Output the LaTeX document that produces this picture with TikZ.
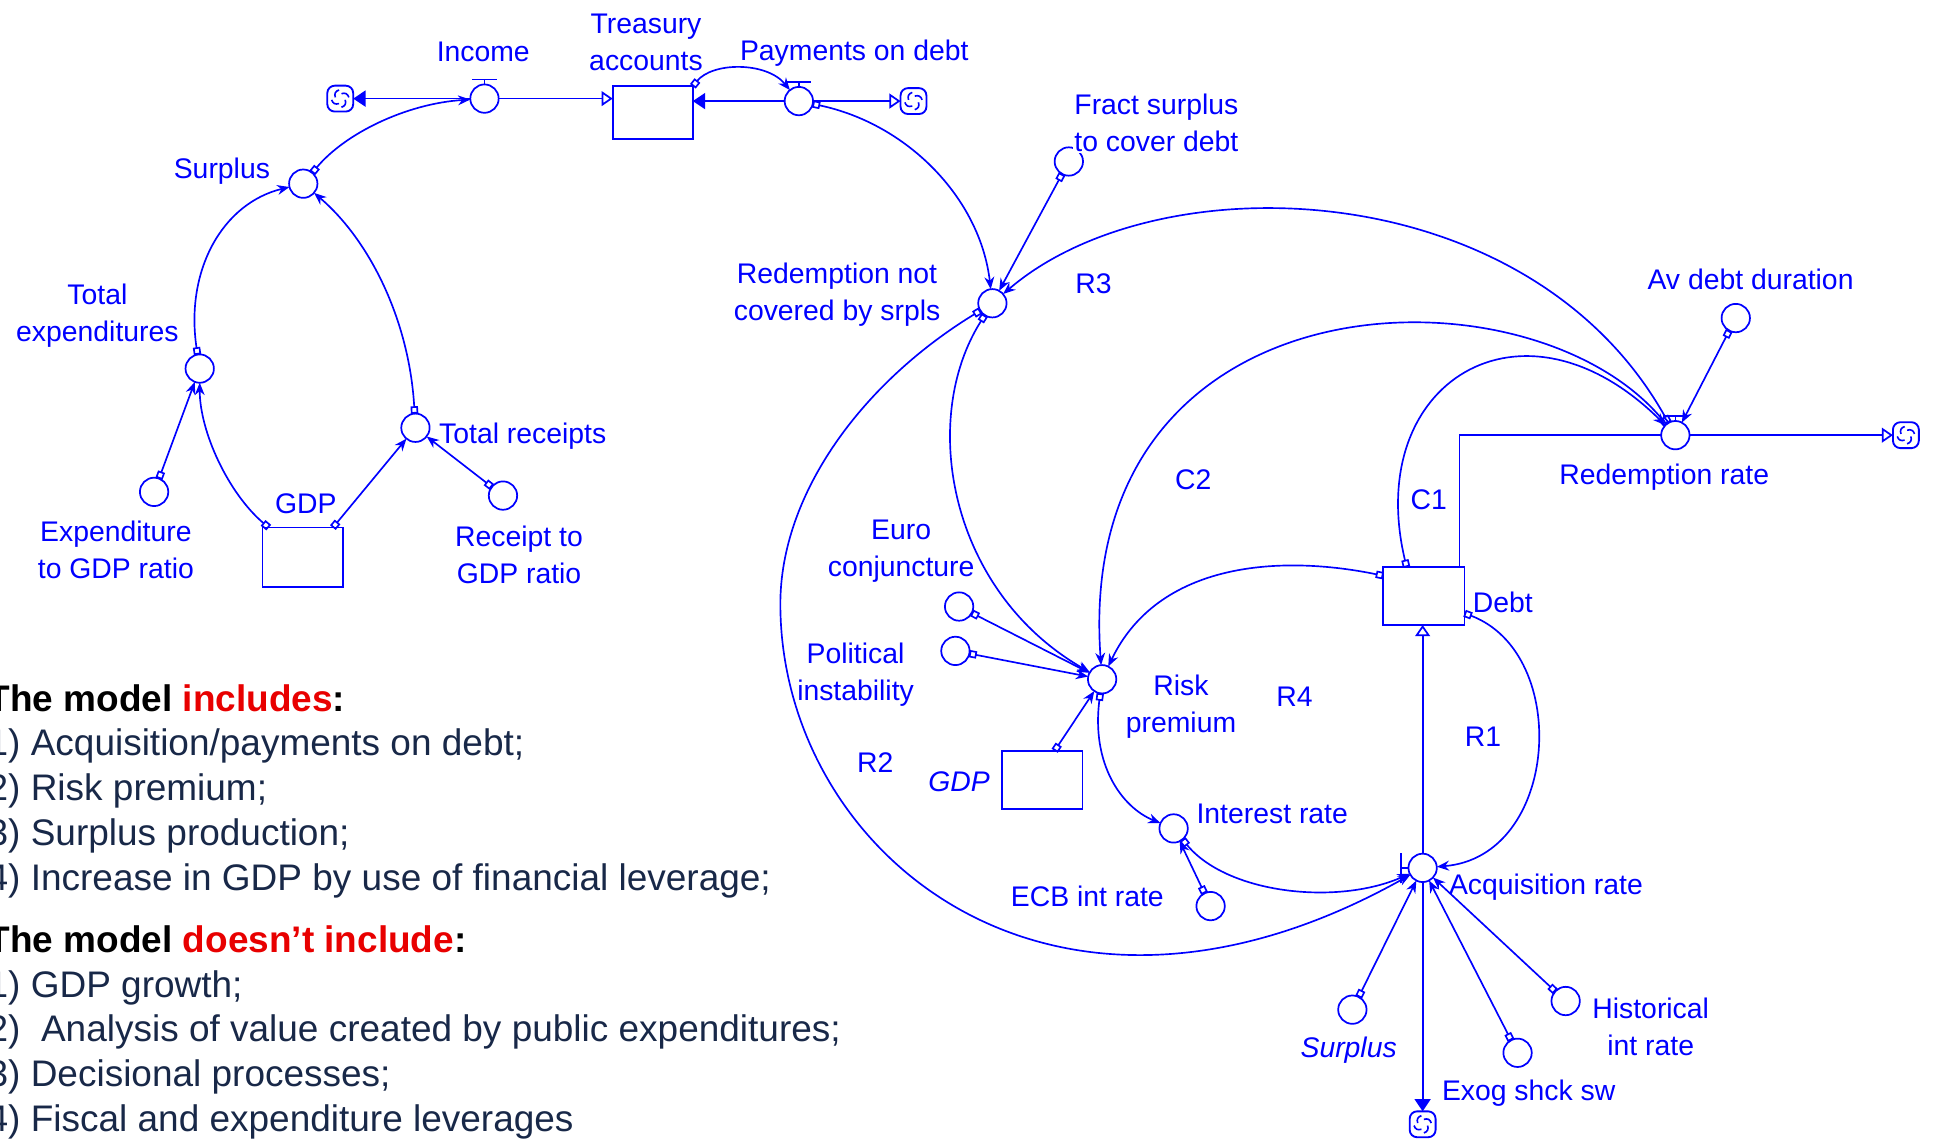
\documentclass[tikz,border=0pt]{standalone}
\usepackage{fontspec}
\setmainfont{Liberation Sans}
\usetikzlibrary{arrows.meta}
\pgfdeclarelayer{bg}
\pgfsetlayers{bg,main}
\definecolor{vblue}{RGB}{0,0,255}
\definecolor{vnavy}{RGB}{24,40,72}
\definecolor{vred}{RGB}{232,0,0}
% one curved stroke of the source/sink cloud, drawn four times around its centre
\newcommand{\cloudhooks}{%
  \path (path picture bounding box.center) coordinate (cc);
  \draw[vblue, line width=1.3pt] ([shift={(-1pt,7pt)}]cc) .. controls +(-3pt,-1pt) and +(-1pt,3pt) .. ([shift={(-4pt,1pt)}]cc);
  \draw[vblue, line width=1.3pt] ([shift={(-7pt,-1pt)}]cc) .. controls +(1pt,-3pt) and +(-3pt,-1pt) .. ([shift={(-1pt,-4pt)}]cc);
  \draw[vblue, line width=1.3pt] ([shift={(1pt,-7pt)}]cc) .. controls +(3pt,1pt) and +(1pt,-3pt) .. ([shift={(4pt,-1pt)}]cc);
  \draw[vblue, line width=1.3pt] ([shift={(7pt,1pt)}]cc) .. controls +(-1pt,3pt) and +(3pt,1pt) .. ([shift={(1pt,4pt)}]cc);
}

\begin{document}
\begin{tikzpicture}[x=1pt,y=-1pt,
  every node/.style={inner sep=0pt, outer sep=0pt},
  lbl/.style={text=vblue, font=\fontsize{23}{30}\selectfont, align=center},
  aux/.style={circle, draw=vblue, line width=1.4pt, fill=white, minimum size=23pt},
  cloudsym/.style={rectangle, rounded corners=6pt, draw=vblue, line width=1.5pt, fill=white,
    minimum size=21pt, path picture={\cloudhooks}},
  stock/.style={rectangle, draw=vblue, line width=1.4pt, fill=white, minimum width=65pt},
  handle/.style={draw=vblue, line width=1.4pt},
  conn/.style={draw=vblue, line width=1.35pt,
    {Square[open,length=6pt,width=6pt]}-{Stealth[length=10pt,width=8pt]}},
  flowline/.style={draw=vblue, line width=1.4pt},
  listhead/.style={text=black, font=\fontsize{30}{36}\selectfont\bfseries},
  listitem/.style={text=vnavy, font=\fontsize{30}{36}\selectfont}
]
\useasboundingbox (0,0) rectangle (1568,925);

% ---------- stocks ----------
\node[stock, minimum height=43pt] (treasury) at (529.5,91.5) {};
\node[stock, minimum height=48pt] (gdp) at (245.5,452) {};
\node[stock, minimum width=66pt, minimum height=47pt] (debt) at (1155,483.5) {};
\node[stock, minimum height=47pt] (gdpb) at (845.5,632.5) {};

% ---------- valves ----------
\node[aux] (income) at (393,80) {};
\node[aux] (payments) at (648,82) {};
\node[aux] (redrate) at (1359,353) {};
\node[aux] (acqrate) at (1154,704) {};
\draw[handle] (income.north) -- ++(0,-4) ++(-10,0) -- ++(20,0);
\draw[handle] (payments.north) -- ++(0,-4) ++(-10,0) -- ++(20,0);
\draw[handle] (redrate.north) -- ++(0,-4) ++(-10,0) -- ++(20,0);
\draw[handle] (acqrate.west) -- ++(-6,0) ++(0,-12) -- ++(0,24);

% ---------- clouds ----------
\node[cloudsym] (cloudA) at (276,80) {};
\node[cloudsym] (cloudB) at (741,82) {};
\node[cloudsym] (cloudC) at (1546,353) {};
\node[cloudsym] (cloudD) at (1154,912) {};

% ---------- auxiliaries ----------
\node[aux] (surplus) at (246,149) {};
\node[aux] (totexp) at (162,299) {};
\node[aux] (totrec) at (337,347) {};
\node[aux] (expratio) at (125,399) {};
\node[aux] (recratio) at (408,402) {};
\node[aux] (fract) at (867,131) {};
\node[aux] (rnc) at (805,246) {};
\node[aux] (avdebt) at (1408,258) {};
\node[aux] (euro) at (778,492) {};
\node[aux] (polit) at (775,528) {};
\node[aux] (risk) at (894,551) {};
\node[aux] (intrate) at (952,672) {};
\node[aux] (ecb) at (982,735) {};
\node[aux] (surplusb) at (1097,819) {};
\node[aux] (exog) at (1231,854) {};
\node[aux] (hist) at (1270,812) {};

% ---------- flows ----------
\begin{pgfonlayer}{bg}
\draw[flowline, {Triangle[length=10pt,width=13pt]}-{Triangle[open,length=9pt,width=12pt]}]
  (cloudA) -- (cloudA -| treasury.west);
\draw[flowline, {Triangle[length=10pt,width=13pt]}-{Triangle[open,length=9pt,width=12pt]}]
  (payments -| treasury.east) -- (cloudB);
\draw[flowline, -{Triangle[open,length=9pt,width=12pt]}]
  ([xshift=-4pt]debt.north east) |- (cloudC);
\draw[flowline, -{Triangle[open,length=9pt,width=12pt]}]
  (acqrate) -- (acqrate |- debt.south);
\draw[flowline, -{Triangle[length=10pt,width=13pt]}]
  (acqrate) -- (cloudD);
\end{pgfonlayer}

% ---------- connectors ----------
\draw[conn] (treasury.north east) .. controls (578,50) and (622,50) .. (payments);
\draw[conn] (surplus) .. controls (280,108) and (330,84) .. (income);
\draw[conn] (totexp) .. controls (150,220) and (180,165) .. (surplus);
\draw[conn] (totrec) .. controls (332,260) and (300,195) .. (surplus);
\draw[conn] ([xshift=5pt]gdp.north west) .. controls (185,400) and (162,350) .. (totexp);
\draw[conn] ([xshift=-8pt]gdp.north east) -- (totrec);
\draw[conn] (expratio) -- (totexp);
\draw[conn] (recratio) -- (totrec);
\draw[conn] (payments) .. controls (735,100) and (795,160) .. (rnc);
\draw[conn] (fract) -- (rnc);
\draw[conn] (redrate) .. controls (1240,140) and (940,130) .. (rnc);
\draw[conn] (rnc) .. controls (700,310) and (633,400) .. (633,490)
  .. controls (633,690) and (850,875) .. (acqrate);
\draw[conn] (rnc) .. controls (745,340) and (770,480) .. (risk);
\draw[conn] (euro) -- (risk);
\draw[conn] (polit) -- (risk);
\draw[conn] ([xshift=10pt]gdpb.north) -- (risk);
\draw[conn] (redrate) .. controls (1240,210) and (870,220) .. (risk);
\draw[conn] ([xshift=-14pt]debt.north) .. controls (1105,310) and (1235,230) .. (redrate);
\draw[conn] ([yshift=-7pt]debt.north west) .. controls (1040,450) and (940,455) .. (risk);
\draw[conn] (risk) .. controls (885,620) and (910,655) .. (intrate);
\draw[conn] (ecb) -- (intrate);
\draw[conn] (intrate) .. controls (995,725) and (1085,735) .. (acqrate);
\draw[conn] ([yshift=-14pt]debt.east) .. controls (1275,530) and (1265,695) .. (acqrate);
\draw[conn] (surplusb) -- (acqrate);
\draw[conn] (exog) -- (acqrate);
\draw[conn] (hist) -- (acqrate);
\draw[conn] (avdebt) -- (redrate);

% ---------- labels ----------
\node[lbl] (l-income) at (392,42) {Income};
\node[lbl] (l-treasury) at (524,34) {Treasury\\accounts};
\node[lbl] (l-payments) at (693,43) {Payments on debt};
\node[lbl] (l-surplus) at (180,139) {Surplus};
\node[lbl] (l-totexp) at (79,256) {Total\\expenditures};
\node[lbl] (l-totrec) at (424,354) {Total receipts};
\node[lbl] (l-gdp) at (248,409) {GDP};
\node[lbl] (l-expratio) at (94,446) {Expenditure\\to GDP ratio};
\node[lbl] (l-recratio) at (421,450) {Receipt to\\GDP ratio};
\node[lbl, fill=white, inner sep=1pt] (l-fract) at (938,100) {Fract surplus\\to cover debt};
\node[lbl] (l-rnc) at (679,239) {Redemption not\\covered by srpls};
\node[lbl] (l-r3) at (887,230) {R3};
\node[lbl] (l-avdebt) at (1420,227) {Av debt duration};
\node[lbl] (l-redrate) at (1350,387) {Redemption rate};
\node[lbl] (l-c1) at (1159,405) {C1};
\node[lbl] (l-c2) at (968,389) {C2};
\node[lbl] (l-euro) at (731,447) {Euro\\conjuncture};
\node[lbl] (l-polit) at (694,547) {Political\\instability};
\node[lbl] (l-risk) at (958,573) {Risk\\premium};
\node[lbl] (l-r4) at (1050,565) {R4};
\node[lbl] (l-debt) at (1219,489) {Debt};
\node[lbl] (l-r1) at (1203,598) {R1};
\node[lbl] (l-r2) at (710,619) {R2};
\node[lbl, font=\fontsize{23}{30}\selectfont\itshape] (l-gdpb) at (778,634) {GDP};
\node[lbl] (l-intrate) at (1032,660) {Interest rate};
\node[lbl] (l-ecb) at (882,727) {ECB int rate};
\node[lbl] (l-acqrate) at (1254,720) {Acquisition rate};
\node[lbl, font=\fontsize{23}{30}\selectfont\itshape] (l-surplusb) at (1094,852) {Surplus};
\node[lbl] (l-hist) at (1339,833) {Historical\\int rate};
\node[lbl] (l-exog) at (1240,887) {Exog shck sw};

% ---------- model scope list ----------
\node[listhead, anchor=base west] (inc-h) at (-10,577) {The model \textcolor{vred}{includes}:};
\node[listitem, anchor=base west] (inc-1) at (-10,613) {1) Acquisition/payments on debt;};
\node[listitem, anchor=base west] (inc-2) at (-10,649) {2) Risk premium;};
\node[listitem, anchor=base west] (inc-3) at (-10,686) {3) Surplus production;};
\node[listitem, anchor=base west] (inc-4) at (-10,722) {4) Increase in GDP by use of financial leverage;};
\node[listhead, anchor=base west] (exc-h) at (-10,773) {The model \textcolor{vred}{doesn’t include}:};
\node[listitem, anchor=base west] (exc-1) at (-10,809) {1) GDP growth;};
\node[listitem, anchor=base west] (exc-2) at (-10,845) {2)\ \ Analysis of value created by public expenditures;};
\node[listitem, anchor=base west] (exc-3) at (-10,881) {3) Decisional processes;};
\node[listitem, anchor=base west] (exc-4) at (-10,918) {4) Fiscal and expenditure leverages};
\end{tikzpicture}
\end{document}
